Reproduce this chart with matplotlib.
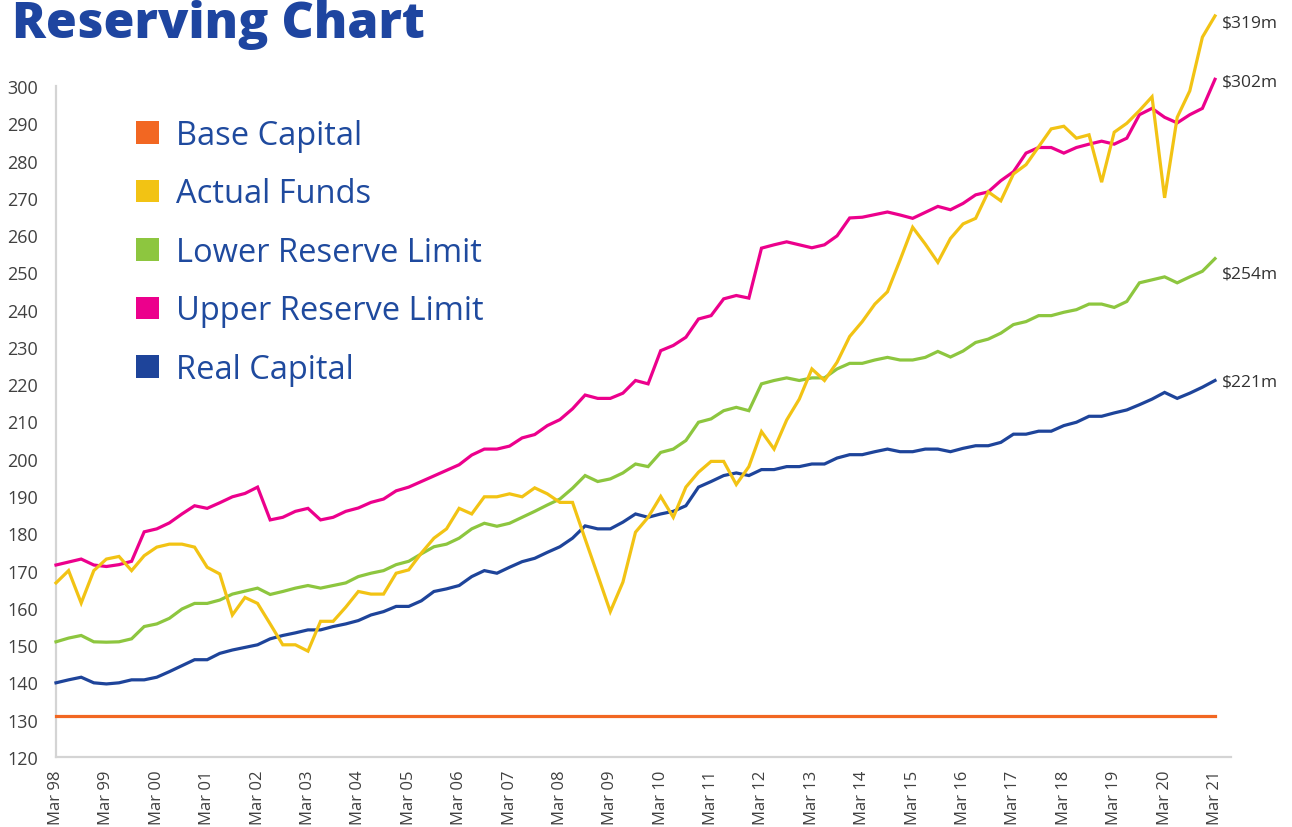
import matplotlib
matplotlib.use("Agg")
import matplotlib.pyplot as plt
from matplotlib.patches import Patch

plt.rcParams['font.family'] = ['Open Sans', 'DejaVu Sans']

# ---------------- data ----------------
years = ["98", "99", "00", "01", "02", "03", "04", "05", "06", "07", "08", "09",
         "10", "11", "12", "13", "14", "15", "16", "17", "18", "19", "20", "21"]
tick_labels = ["Mar " + y for y in years]

base_capital = [131.0] * 93

actual_funds = [166.7, 170.0, 161.3, 170.0, 173.1, 173.8, 170.0, 174.0, 176.3, 177.1,
                177.1, 176.3, 170.9, 169.1, 158.1, 162.8, 161.2, 155.7, 150.1, 150.1,
                148.4, 156.4, 156.4, 160.2, 164.4, 163.7, 163.7, 169.3, 170.2, 174.7,
                178.7, 181.2, 186.7, 185.2, 189.8, 189.8, 190.6, 189.8, 192.2, 190.6,
                188.3, 188.3, 178.5, 168.8, 159.0, 166.9, 180.3, 184.3, 189.9, 184.3,
                192.4, 196.4, 199.3, 199.3, 193.1, 197.9, 207.3, 202.6, 210.4, 216.0,
                224.1, 221.0, 225.9, 232.8, 236.8, 241.5, 244.8, 253.3, 262.1, 257.6,
                252.7, 259.1, 263.0, 264.5, 271.6, 269.2, 276.4, 278.9, 283.7, 288.5,
                289.2, 286.0, 286.9, 274.2, 287.6, 290.0, 293.4, 297.1, 270.0, 291.6,
                298.7, 313.1, 318.8]

lower_reserve = [150.9, 151.9, 152.6, 150.9, 150.8, 150.9, 151.7, 155.0, 155.7, 157.2,
                 159.7, 161.2, 161.2, 162.1, 163.7, 164.5, 165.3, 163.6, 164.4, 165.3,
                 166.0, 165.3, 166.0, 166.7, 168.4, 169.3, 170.0, 171.6, 172.5, 174.5,
                 176.4, 177.1, 178.7, 181.2, 182.7, 181.9, 182.7, 184.3, 185.9, 187.6,
                 189.2, 192.1, 195.5, 193.9, 194.6, 196.2, 198.6, 197.9, 201.7, 202.6,
                 204.9, 209.8, 210.7, 212.9, 213.8, 212.9, 220.1, 221.0, 221.7, 221.0,
                 221.7, 221.7, 224.1, 225.6, 225.6, 226.5, 227.2, 226.5, 226.5, 227.2,
                 228.8, 227.3, 228.9, 231.2, 232.1, 233.7, 236.0, 236.8, 238.4, 238.4,
                 239.3, 240.0, 241.5, 241.5, 240.6, 242.2, 247.2, 248.0, 248.8, 247.2,
                 248.8, 250.3, 253.7]

upper_reserve = [171.5, 172.3, 173.1, 171.5, 171.1, 171.6, 172.5, 180.4, 181.2, 182.8,
                 185.2, 187.4, 186.7, 188.2, 189.8, 190.7, 192.4, 183.6, 184.3, 185.9,
                 186.7, 183.6, 184.3, 185.9, 186.8, 188.3, 189.2, 191.4, 192.4, 193.9,
                 195.4, 196.9, 198.4, 201.0, 202.6, 202.6, 203.4, 205.6, 206.5, 208.9,
                 210.5, 213.4, 217.1, 216.2, 216.2, 217.6, 221.0, 220.1, 229.0, 230.4,
                 232.6, 237.5, 238.4, 242.9, 243.8, 243.1, 256.5, 257.4, 258.2, 257.4,
                 256.6, 257.4, 259.8, 264.6, 264.8, 265.5, 266.2, 265.4, 264.5, 266.1,
                 267.7, 266.8, 268.5, 270.8, 271.6, 274.6, 277.0, 282.0, 283.5, 283.5,
                 282.0, 283.5, 284.4, 285.2, 284.4, 286.0, 292.3, 294.0, 291.6, 290.1,
                 292.3, 294.0, 301.8]

real_capital = [139.9, 140.7, 141.4, 139.9, 139.6, 139.9, 140.7, 140.7, 141.4, 142.9,
                144.5, 146.1, 146.1, 147.8, 148.7, 149.4, 150.1, 151.7, 152.6, 153.3,
                154.1, 154.1, 155.0, 155.7, 156.6, 158.1, 159.0, 160.4, 160.4, 161.9,
                164.4, 165.1, 166.0, 168.4, 170.0, 169.3, 170.9, 172.4, 173.3, 174.9,
                176.4, 178.7, 182.0, 181.2, 181.2, 183.0, 185.2, 184.3, 185.2, 185.9,
                187.4, 192.4, 193.9, 195.5, 196.2, 195.5, 197.1, 197.1, 197.9, 197.9,
                198.6, 198.6, 200.2, 201.1, 201.1, 201.9, 202.6, 201.9, 201.9, 202.6,
                202.6, 201.9, 202.8, 203.5, 203.5, 204.4, 206.6, 206.6, 207.4, 207.4,
                208.9, 209.8, 211.4, 211.4, 212.3, 213.1, 214.5, 216.0, 217.8, 216.2,
                217.6, 219.2, 221.0]

series_names = ["Base Capital", "Actual Funds", "Lower Reserve Limit",
                "Upper Reserve Limit", "Real Capital"]
end_labels = ["$319m", "$302m", "$254m", "$221m"]

# ---------------- styling ----------------
colors = ["#F26722", "#F2C314", "#8DC63F", "#EC008C", "#1E449A"]
text_blue = "#1F4A9E"
grey_text = "#404040"
spine_grey = "#D4D4D4"

W, H = 1292, 828
fig = plt.figure(figsize=(W / 100, H / 100), dpi=100)
ax = fig.add_axes([56 / W, 1 - 758 / H, (1231 - 56) / W, (758 - 87) / H])

series = [base_capital, actual_funds, lower_reserve, upper_reserve, real_capital]
x = list(range(len(actual_funds)))
# draw order: base, real, lower, upper, actual
order = [0, 4, 2, 3, 1]
for k in order:
    ax.plot(x, series[k], color=colors[k], lw=2.3, clip_on=False,
            solid_joinstyle="miter", zorder=3)

ax.set_xlim(0, 93.27)
ax.set_ylim(120, 300)
ax.set_yticks(range(120, 301, 10))
ax.set_xticks(range(0, 93, 4))
ax.set_xticklabels(tick_labels, rotation=90, va="top", ha="center")
ax.tick_params(axis="both", length=0, colors=grey_text)
ax.tick_params(axis="y", pad=13, labelsize=13)
ax.tick_params(axis="x", pad=9, labelsize=12)
for side in ("top", "right"):
    ax.spines[side].set_visible(False)
for side in ("left", "bottom"):
    ax.spines[side].set_color(spine_grey)
    ax.spines[side].set_linewidth(1.6)

# end-of-line value labels
end_series = [actual_funds, upper_reserve, lower_reserve, real_capital]
end_offsets = [-5, -1.5, -11, -1]
for lab, s, dy in zip(end_labels, end_series, end_offsets):
    ax.annotate(lab, xy=(92, s[-1]), xytext=(5, dy), textcoords="offset points",
                ha="left", va="center", fontsize=12.5, color="#333333",
                annotation_clip=False)

# legend
handles = [Patch(facecolor=c, edgecolor="none") for c in colors]
leg = ax.legend(handles, series_names, loc="upper left",
                bbox_to_anchor=(136 / W, 1 - 120 / H), bbox_transform=fig.transFigure,
                frameon=False, fontsize=23.5, handlelength=0.7, handleheight=0.7,
                handletextpad=0.52, labelspacing=0.78, borderaxespad=0, borderpad=0)
for t in leg.get_texts():
    t.set_color(text_blue)

# title
fig.text(12 / W, 1 - 38 / H, "Reserving Chart", fontsize=36, fontweight="heavy",
         color="#1E45A0", ha="left", va="baseline")

fig.savefig("out.png", dpi=100)
